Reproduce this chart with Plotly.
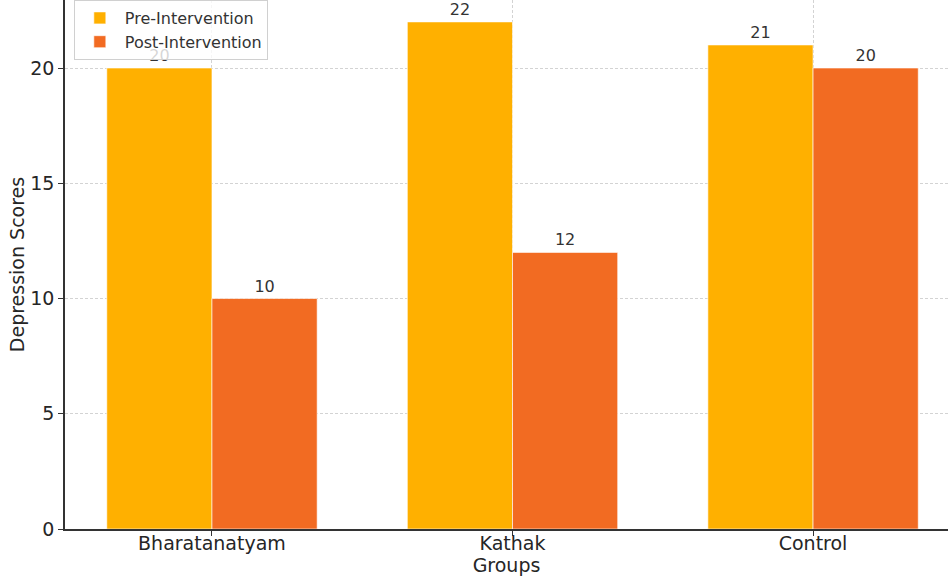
import plotly.graph_objects as go

groups = ["Bharatanatyam", "Kathak", "Control"]
pre_scores = [20, 22, 21]
post_scores = [10, 12, 20]
series_names = ["Pre-Intervention", "Post-Intervention"]
y_ticks = [0, 5, 10, 15, 20]

fig = go.Figure()
fig.add_trace(go.Bar(
    x=groups, y=pre_scores, name=series_names[0],
    marker=dict(color="#FFB000", line=dict(color="rgba(255,255,255,0.6)", width=1)),
    text=[str(v) for v in pre_scores], textposition="outside",
    textfont=dict(size=16, color="#333333"), cliponaxis=False,
))
fig.add_trace(go.Bar(
    x=groups, y=post_scores, name=series_names[1],
    marker=dict(color="#F26B22", line=dict(color="rgba(255,255,255,0.6)", width=1)),
    text=[str(v) for v in post_scores], textposition="outside",
    textfont=dict(size=16, color="#333333"), cliponaxis=False,
))

fig.update_layout(
    width=948, height=582,
    margin=dict(l=65, r=0, t=0, b=53),
    paper_bgcolor="white", plot_bgcolor="white",
    barmode="group", bargap=0.3, bargroupgap=0,
    font=dict(family="DejaVu Sans", color="#262626"),
    legend=dict(
        x=0.01, y=1.0, xanchor="left", yanchor="top",
        bgcolor="rgba(255,255,255,0.8)", bordercolor="#d0d0d0", borderwidth=1,
        font=dict(size=16, color="#333333"), itemwidth=40,
        tracegroupgap=0,
    ),
    xaxis=dict(
        range=[-0.489, 2.449],
        showline=True, linecolor="#333333", linewidth=1.5,
        ticks="outside", ticklen=5, tickcolor="#333333",
        showgrid=True, gridcolor="#d3d3d3", griddash="3px,2px", gridwidth=1,
        tickfont=dict(size=19, color="#262626"),
        ticklabelstandoff=-9,
        title=dict(text="Groups", font=dict(size=19, color="#262626"), standoff=3),
    ),
    yaxis=dict(
        range=[0, 22.95], tickvals=y_ticks,
        showline=True, linecolor="#333333", linewidth=1.5,
        ticks="outside", ticklen=5, tickcolor="#333333",
        showgrid=True, gridcolor="#d3d3d3", griddash="3px,2px", gridwidth=1,
        zeroline=False,
        tickfont=dict(size=19, color="#262626"),
        title=dict(text="Depression Scores", font=dict(size=19, color="#262626"), standoff=1),
    ),
)

fig.write_html("out.html")
